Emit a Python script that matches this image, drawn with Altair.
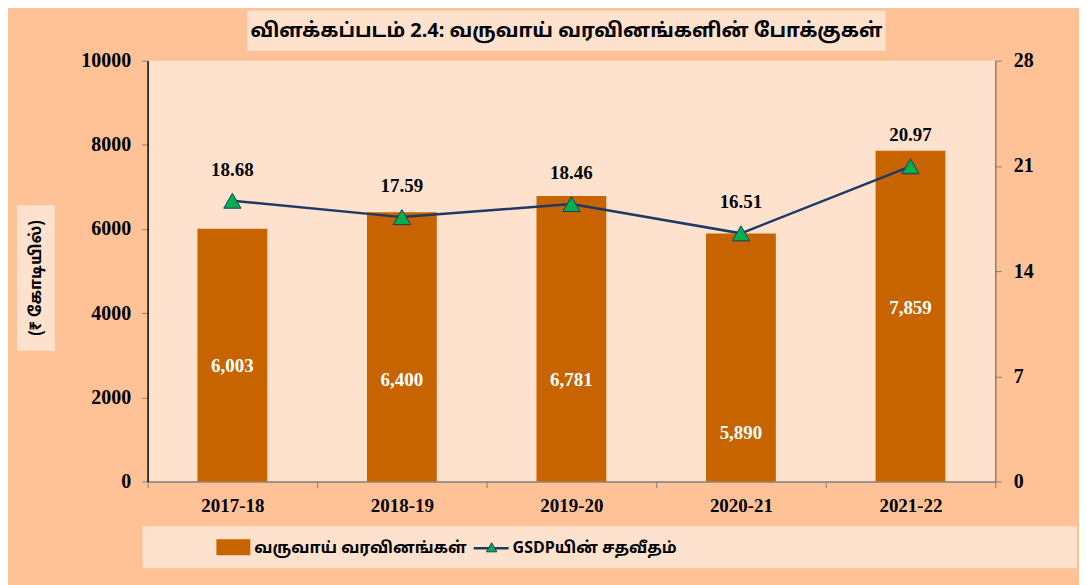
import altair as alt
import pandas as pd

years = ["2017-18", "2018-19", "2019-20", "2020-21", "2021-22"]
receipts = [6003, 6400, 6781, 5890, 7859]
receipt_labels = ["6,003", "6,400", "6,781", "5,890", "7,859"]
label_height = [2750, 2420, 2420, 1160, 4120]  # label anchor heights (₹ crore)
gsdp_pct = [18.68, 17.59, 18.46, 16.51, 20.97]
gsdp_labels = ["18.68", "17.59", "18.46", "16.51", "20.97"]

title_text = "விளக்கப்படம் 2.4: வருவாய் வரவினங்களின் போக்குகள்"
y_title = "(₹ கோடியில்)"
legend_bar_text = "வருவாய் வரவினங்கள்"
legend_line_text = "GSDPயின் சதவீதம்"

OUTER = "#FFC196"
INNER = "#FFE2CE"
BAR = "#C86400"
LINE = "#1F3864"
TRI = "#00B050"
SERIF = "Liberation Serif, Times New Roman, serif"
TAMIL = "Noto Sans Tamil, Lohit Tamil, Latha, Noto Sans, DejaVu Sans, sans-serif"

df = pd.DataFrame({
    "year": years,
    "receipts": receipts,
    "rlabel": receipt_labels,
    "lh": label_height,
    "pct": gsdp_pct,
    "plabel": gsdp_labels,
})

x_axis = alt.Axis(
    labelAngle=0, labelFont=SERIF, labelFontWeight="bold", labelFontSize=19,
    labelColor="black", labelPadding=9, tickBand="extent", tickSize=6,
    tickColor="#808080", domainColor="#808080", domainWidth=1.5, grid=False,
)
x = alt.X("year:N", sort=years, title=None,
          scale=alt.Scale(paddingInner=0, paddingOuter=0), axis=x_axis)

left_scale = alt.Scale(domain=[0, 10000], nice=False)
left_axis = alt.Axis(
    values=[0, 2000, 4000, 6000, 8000, 10000], format="d", orient="left", grid=False,
    labelFont=SERIF, labelFontWeight="bold", labelFontSize=20, labelColor="black",
    labelPadding=11, tickSize=6, tickColor="#808080", domainColor="black",
    domainWidth=1.5, title=None,
)
right_scale = alt.Scale(domain=[0, 28], nice=False)
right_axis = alt.Axis(
    values=[0, 7, 14, 21, 28], format="d", orient="right", grid=False,
    labelFont=SERIF, labelFontWeight="bold", labelFontSize=20, labelColor="black",
    labelPadding=12, tickSize=6, tickColor="#808080", domainColor="#808080",
    domainWidth=1.5, title=None,
)

base = alt.Chart(df)

bars = base.mark_bar(size=70, color=BAR).encode(
    x=x, y=alt.Y("receipts:Q", title=None, scale=left_scale, axis=left_axis)
)
bar_text = base.mark_text(
    font=SERIF, fontWeight="bold", fontSize=19, color="white", baseline="middle"
).encode(
    x=x,
    y=alt.Y("lh:Q", title=None, scale=left_scale, axis=left_axis),
    text="rlabel:N",
)
left_layer = alt.layer(bars, bar_text)

y_r = alt.Y("pct:Q", title=None, scale=right_scale, axis=right_axis)
line = base.mark_line(color=LINE, strokeWidth=2.5).encode(x=x, y=y_r)
points = base.mark_point(
    shape="triangle-up", filled=True, fill=TRI, stroke=LINE, strokeWidth=1,
    size=300, opacity=1,
).encode(x=x, y=y_r)
pt_text = base.mark_text(
    font=SERIF, fontWeight="bold", fontSize=19, color="black", dy=-31, baseline="middle"
).encode(x=x, y=y_r, text="plabel:N")
right_layer = alt.layer(line, points, pt_text)

main = alt.layer(left_layer, right_layer).resolve_scale(y="independent")

one = alt.Data(values=[{"k": 1}])


def box(x1, x2, y1, y2, color):
    return alt.Chart(one).mark_rect(color=color).encode(
        x=alt.value(x1), x2=alt.value(x2), y=alt.value(y1), y2=alt.value(y2)
    )


def label(txt, xp, yp, size, align="left", angle=0, font=TAMIL):
    return alt.Chart(one).mark_text(
        text=txt, font=font, fontWeight="bold", fontSize=size, color="black",
        align=align, baseline="middle", angle=angle,
    ).encode(x=alt.value(xp), y=alt.value(yp))


title_box = box(100, 740, -50, -10, INNER)
title_lbl = label(title_text, 420, -30, 20, align="center")
ytitle_box = box(-131, -93, 145, 291, INNER)
ytitle_lbl = label(y_title, -112, 218, 16, align="center", angle=270)
legend_box = box(-5, 932, 467, 509, INNER)
legend_swatch = box(69, 103, 480, 496, BAR)
legend_txt1 = label(legend_bar_text, 107, 489, 16)
legend_rule = alt.Chart(one).mark_rule(color=LINE, strokeWidth=2.5).encode(
    x=alt.value(327), x2=alt.value(362), y=alt.value(489)
)
legend_tri = alt.Chart(one).mark_point(
    shape="triangle-up", filled=True, fill=TRI, stroke=LINE, strokeWidth=1, size=110, opacity=1
).encode(x=alt.value(345), y=alt.value(488))
legend_txt2 = label(legend_line_text, 366, 489, 16)

chart = alt.layer(
    title_box, title_lbl, ytitle_box, ytitle_lbl,
    legend_box, legend_swatch, legend_txt1, legend_rule, legend_tri, legend_txt2,
    main,
).properties(
    width=850, height=422, autosize="none",
    padding={"left": 140, "top": 52, "right": 84, "bottom": 103},
    background=OUTER,
).configure_view(fill=INNER, stroke=None)

chart.save("out.html", embed_options={"renderer": "svg", "actions": False})
